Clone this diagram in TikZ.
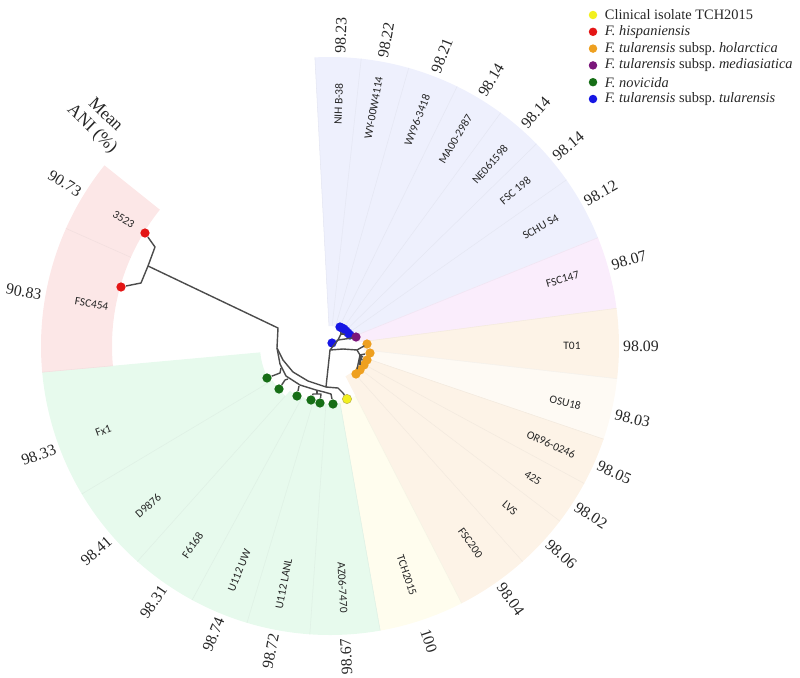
\documentclass[tikz,border=0pt]{standalone}
\usepackage{fontspec}
\setmainfont{Liberation Serif}
\newfontfamily\leaffont{Carlito}
\usetikzlibrary{positioning}
\definecolor{tulblue}{RGB}{238,240,253}
\definecolor{medpink}{RGB}{250,237,252}
\definecolor{holpeach}{RGB}{253,243,231}
\definecolor{osucream}{RGB}{254,250,244}
\definecolor{tchcream}{RGB}{255,253,238}
\definecolor{novgreen}{RGB}{231,250,237}
\definecolor{hisppink}{RGB}{252,231,231}
\definecolor{dotyellow}{RGB}{242,240,30}
\definecolor{dotred}{RGB}{228,22,22}
\definecolor{dotorange}{RGB}{238,160,32}
\definecolor{dotpurple}{RGB}{122,22,122}
\definecolor{dotgreen}{RGB}{22,110,22}
\definecolor{dotblue}{RGB}{22,22,228}

\begin{document}
\begin{tikzpicture}[x=0.02cm,y=0.02cm,
  tipdot/.style={circle,fill=#1,inner sep=0pt,minimum size=0.185cm},
  keydot/.style={circle,fill=#1,inner sep=0pt,minimum size=0.17cm},
  branch/.style={draw=black!70,line width=0.8pt,line join=round},
  rangesep/.style={line width=0.3pt},
  leaflbl/.style={font=\leaffont\fontsize{6.5}{7}\selectfont,text=black!85,inner sep=0pt},
  anilbl/.style={font=\fontsize{9}{10}\selectfont,text=black!85,inner sep=0pt},
  keytext/.style={font=\fontsize{8.2}{9}\selectfont,text=black!85,inner sep=0pt,anchor=west}]
\useasboundingbox (-330,-331) rectangle (470,346);
\def\outR{289}
% colour ranges, strain names, mean ANI values
\foreach \sa/\sb/\rin/\col/\a/\lab/\val [count=\i] in {
    93/83.8/20/tulblue/88/{NIH B-38}/98.23,
    83.8/74.2/20/tulblue/79.6/{WY-00W4114}/98.22,
    74.2/63.9/20/tulblue/68.9/{WY96-3418}/98.21,
    63.9/53.8/20/tulblue/58.8/{MA00-2987}/98.14,
    53.8/44.4/20/tulblue/48.6/{NE061598}/98.14,
    44.4/35.1/20/tulblue/40/{FSC 198}/98.14,
    35.1/22/20/tulblue/29.5/{SCHU S4}/98.12,
    22/7.5/26/medpink/16/{FSC147}/98.07,
    7.5/-6.5/34/holpeach/0/{T01}/98.09,
    -6.5/-18.8/34/osucream/-13.5/{OSU18}/98.03,
    -18.8/-28.4/34/holpeach/-24/{OR96-0246}/98.05,
    -28.4/-37.3/34/holpeach/-33/{425}/98.02,
    -37.3/-48.2/34/holpeach/-42/{LVS}/98.06,
    -48.2/-62.9/34/holpeach/-54.5/{FSC200}/98.04,
    -62.9/-80/56/tchcream/-71.5/{TCH2015}/100,
    -80/-94/58/novgreen/-87/{AZ06-7470}/98.67,
    -94/-106.7/58/novgreen/-101/{U112 LANL}/98.72,
    -106.7/-118.5/58/novgreen/-112/{U112 UW}/98.74,
    -118.5/-131.8/60/novgreen/-124.6/{F6168}/98.31,
    -131.8/-149.2/67/novgreen/-138.7/{D9876}/98.41,
    -149.2/-174.8/70/novgreen/-159.5/{Fx1}/98.33,
    185.2/156/218/hisppink/170/{FSC454}/90.83,
    156/141.3/218/hisppink/148.5/{3523}/90.73}{
  \pgfmathsetmacro\lrot{\a<-90 ? \a+180 : (\a>95 ? \a-180 : \a)}
  \pgfmathsetmacro\vrot{\a<-80 ? \a+180 : (\a>95 ? \a-180 : \a)}
  \fill[\col] (\sa:\rin) -- (\sa:\outR) arc[start angle=\sa,end angle=\sb,radius=\outR]
    -- (\sb:\rin) arc[start angle=\sb,end angle=\sa,radius=\rin] -- cycle;
  \draw[rangesep,draw=\col!96!black] (\sa:\rin) -- (\sa:\outR);
  \node[leaflbl,rotate=\lrot] (leaf\i) at (\a:242) {\lab};
  \node[anilbl,rotate=\vrot] (ani\i) at (\a:311) {\val};
}
\node[font=\fontsize{10}{11}\selectfont,text=black!85,align=center,rotate=-44,inner sep=0pt]
  (meanani) at (136:322) {Mean\\ANI (\%)};

% tips
\node[tipdot=dotred] (t3523) at (-185,113) {};
\node[tipdot=dotred] (tFSC454) at (-209,59) {};
\node[tipdot=dotgreen] (tFx1) at (-63,-32) {};
\node[tipdot=dotgreen] (tD9876) at (-51,-43) {};
\node[tipdot=dotgreen] (tF6168) at (-33,-50) {};
\node[tipdot=dotgreen] (tUW) at (-19,-54) {};
\node[tipdot=dotgreen] (tLANL) at (-10,-57) {};
\node[tipdot=dotgreen] (tAZ06) at (3,-58) {};
\node[tipdot=dotyellow,draw=olive!60,line width=0.3pt] (tTCH) at (17,-53) {};
\foreach \x/\y [count=\k] in {37/2,40/-7,37/-14,34/-19,30/-24,26/-28}
  \node[tipdot=dotorange] (tHol\k) at (\x,\y) {};
\foreach \x/\y [count=\k] in {2/3,10/19,12/18,14/17,16/15,18/13,20/11}
  \node[tipdot=dotblue] (tTul\k) at (\x,\y) {};
\node[tipdot=dotpurple] (tMed) at (26,9) {};

% branches
\coordinate (nHisp) at (-182,80);
\coordinate (nRoot) at (-53,-2);
\coordinate (nNov) at (-6,-46);
\coordinate (nU112) at (-13,-48);
\coordinate (nTul) at (-4,-41);
\coordinate (nTulB) at (0,-4);
\coordinate (nBlue) at (8,6);
\coordinate (nBlue2) at (11,12);
\coordinate (nHol) at (27,-4);
\coordinate (nHol2) at (30,-9);
\draw[branch] (t3523) -- (-175,99) -- (nHisp) -- (-189,63) -- (tFSC454);
\draw[branch] (nHisp) -- (-52,18) -- (nRoot);
\draw[branch] (nRoot) -- (-50,-18) -- (-44,-30) -- (-30,-39) -- (-14,-44) -- (nNov);
\draw[branch] (nRoot) -- (-47,-14) -- (-37,-26) -- (-22,-35) -- (nTul);
\draw[branch] (tFx1) -- (-50,-27) -- (-49,-22);
\draw[branch] (tD9876) -- (-45,-34) -- (-42,-33);
\draw[branch] (tF6168) -- (-31,-40);
\draw[branch] (tUW) -- (-17,-48) -- (nU112) -- (-9,-48) -- (tLANL);
\draw[branch] (nU112) -- (-13,-44);
\draw[branch] (tAZ06) -- (1,-48) -- (nNov);
\draw[branch] (nTul) -- (8,-42) -- (13,-47) -- (tTCH);
\draw[branch] (nTul) -- (nTulB) -- (nBlue) -- (tTul1);
\draw[branch] (nBlue) -- (nBlue2);
\foreach \k in {2,...,7} \draw[branch] (nBlue2) -- (tTul\k);
\draw[branch] (nBlue) -- (22,8) -- (tMed);
\draw[branch] (nTulB) -- (13,-3) -- (nHol) -- (34,0) -- (tHol1);
\draw[branch] (nHol) -- (nHol2);
\foreach \k in {2,...,6} \draw[branch] (nHol2) -- (tHol\k);

% legend
\foreach \col/\txt [count=\i] in {dotyellow/{Clinical isolate TCH2015},
    dotred/{\textit{F. hispaniensis}},
    dotorange/{\textit{F. tularensis} subsp.\ \textit{holarctica}},
    dotpurple/{\textit{F. tularensis} subsp.\ \textit{mediasiatica}},
    dotgreen/{\textit{F. novicida}},
    dotblue/{\textit{F. tularensis} subsp.\ \textit{tularensis}}}{
  \node[keydot=\col] (key\i) at (263,{331-16.8*(\i-1)}) {};
  \node[keytext,right=0.14cm of key\i] (keytext\i) {\txt};
}
\end{tikzpicture}
\end{document}
